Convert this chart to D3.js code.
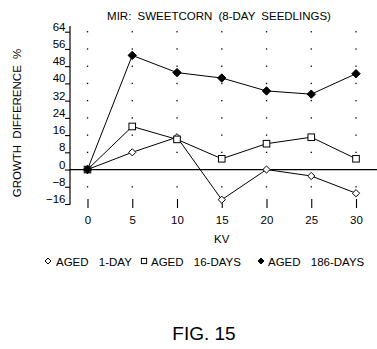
<!DOCTYPE html>
<html>
<head>
<meta charset="utf-8">
<script src="https://cdn.jsdelivr.net/npm/d3@7"></script>
<style>
  html, body { margin: 0; padding: 0; background: #fff; }
  svg { display: block; }
  text { font-family: "Liberation Sans", Arial, Helvetica, sans-serif; fill: #000; }
</style>
</head>
<body>
<svg id="chart" width="377" height="349"></svg>
<script>
// ---- data ----
const kv = [0, 5, 10, 15, 20, 25, 30];
const aged1Day = [0, 8, 15, -14, 0, -3, -11];
const aged16Days = [0, 20, 14, 5, 12, 15, 5];
const aged186Days = [0, 53, 45, 42.5, 36.5, 35, 44.5];
const yTicks = [-16, -8, 0, 8, 16, 24, 32, 40, 48, 56, 64];
const seriesNames = ["AGED 1-DAY", "AGED 16-DAYS", "AGED 186-DAYS"];
const titleText = "MIR: SWEETCORN (8-DAY SEEDLINGS)";
const xLabel = "KV";
const yLabel = "GROWTH DIFFERENCE %";
const figLabel = "FIG. 15";

// ---- layout ----
const svg = d3.select("#chart");
const x = d3.scaleLinear().domain([0, 30]).range([87.5, 356]);
const y = d3.scaleLinear().domain([-16, 64]).range([204, 31.7]);

// title
svg.append("text")
  .attr("x", 219).attr("y", 19.5)
  .attr("text-anchor", "middle")
  .style("font-size", "11.5px")
  .style("word-spacing", "3px")
  .text(titleText);

// y axis line
svg.append("line")
  .attr("x1", 70).attr("x2", 70)
  .attr("y1", y(66.6)).attr("y2", y(-16.3))
  .attr("stroke", "#000").attr("stroke-width", 1.2);

// y axis ticks + labels
const yAxis = svg.append("g").attr("transform", "translate(70,0)")
  .call(d3.axisLeft(y).tickValues(yTicks).tickSize(5).tickSizeOuter(0).tickPadding(0));
yAxis.select(".domain").remove();
yAxis.selectAll(".tick line").attr("stroke", "#000").attr("stroke-width", 1.1);
yAxis.selectAll(".tick text")
  .attr("x", -4.5).attr("y", -1.5).attr("dy", 0)
  .style("font-size", "11.5px").style("font-family", "'Liberation Sans', Arial, sans-serif")
  .attr("fill", "#000");

// x axis ticks + labels
const xAxis = svg.append("g").attr("transform", "translate(0,199)")
  .call(d3.axisBottom(x).tickValues(kv).tickSize(9).tickSizeOuter(0));
xAxis.select(".domain").remove();
xAxis.selectAll(".tick line").attr("stroke", "#000").attr("stroke-width", 1.1);
xAxis.selectAll(".tick text")
  .attr("y", 25).attr("dy", 0)
  .style("font-size", "11.5px").style("font-family", "'Liberation Sans', Arial, sans-serif")
  .attr("fill", "#000");

// dotted grid
const gridPts = [];
kv.forEach(k => yTicks.forEach(t => { if (t !== 0 && t !== -16) gridPts.push([k, t]); }));
svg.append("g").selectAll("rect").data(gridPts).join("rect")
  .attr("x", d => x(d[0]) - 0.6).attr("y", d => y(d[1]) - 0.6)
  .attr("width", 1.3).attr("height", 1.3).attr("fill", "#000");

// zero line
svg.append("line")
  .attr("x1", 70).attr("x2", 377)
  .attr("y1", y(0)).attr("y2", y(0))
  .attr("stroke", "#000").attr("stroke-width", 1.2);

// axis titles
svg.append("text")
  .attr("transform", `translate(21,123) rotate(-90)`)
  .attr("text-anchor", "middle")
  .style("font-size", "11.5px")
  .style("word-spacing", "3px")
  .text(yLabel);

svg.append("text")
  .attr("x", x(15)).attr("y", 243)
  .attr("text-anchor", "middle")
  .style("font-size", "11.5px")
  .text(xLabel);

// series
const line = d3.line().x((d, i) => x(kv[i])).y(d => y(d));
const series = [
  { values: aged1Day, marker: "openDiamond" },
  { values: aged16Days, marker: "openSquare" },
  { values: aged186Days, marker: "filledDiamond" }
];

function drawMarker(g, type, cx, cy, s) {
  if (type === "openSquare") {
    g.append("rect")
      .attr("x", cx - s).attr("y", cy - s)
      .attr("width", 2 * s).attr("height", 2 * s)
      .attr("fill", "#fff").attr("stroke", "#000").attr("stroke-width", 1);
  } else {
    const d = `M${cx},${cy - s}L${cx + s},${cy}L${cx},${cy + s}L${cx - s},${cy}Z`;
    g.append("path").attr("d", d)
      .attr("fill", type === "filledDiamond" ? "#000" : "#fff")
      .attr("stroke", "#000").attr("stroke-width", 1);
  }
}

const sizes = { openDiamond: 3.6, openSquare: 3.3, filledDiamond: 4.2 };
series.forEach(s => {
  svg.append("path").datum(s.values)
    .attr("d", line).attr("fill", "none")
    .attr("stroke", "#000").attr("stroke-width", 1);
});
series.forEach(s => {
  const g = svg.append("g");
  s.values.forEach((v, i) => drawMarker(g, s.marker, x(kv[i]), y(v), sizes[s.marker]));
});

// legend
const legendItems = [
  { marker: "openDiamond", mx: 48, tx: 56, name: seriesNames[0] },
  { marker: "openSquare", mx: 144, tx: 151, name: seriesNames[1] },
  { marker: "filledDiamond", mx: 261, tx: 268, name: seriesNames[2] }
];
legendItems.forEach(it => {
  const g = svg.append("g");
  drawMarker(g, it.marker, it.mx, 261, it.marker === "openSquare" ? 2.6 : 3);
  g.append("text")
    .attr("x", it.tx).attr("y", 265.5)
    .style("font-size", "11.5px")
    .style("word-spacing", "7px")
    .text(it.name);
});

// figure label
svg.append("text")
  .attr("x", 204).attr("y", 340)
  .attr("text-anchor", "middle")
  .style("font-size", "19px")
  .text(figLabel);
</script>
</body>
</html>
